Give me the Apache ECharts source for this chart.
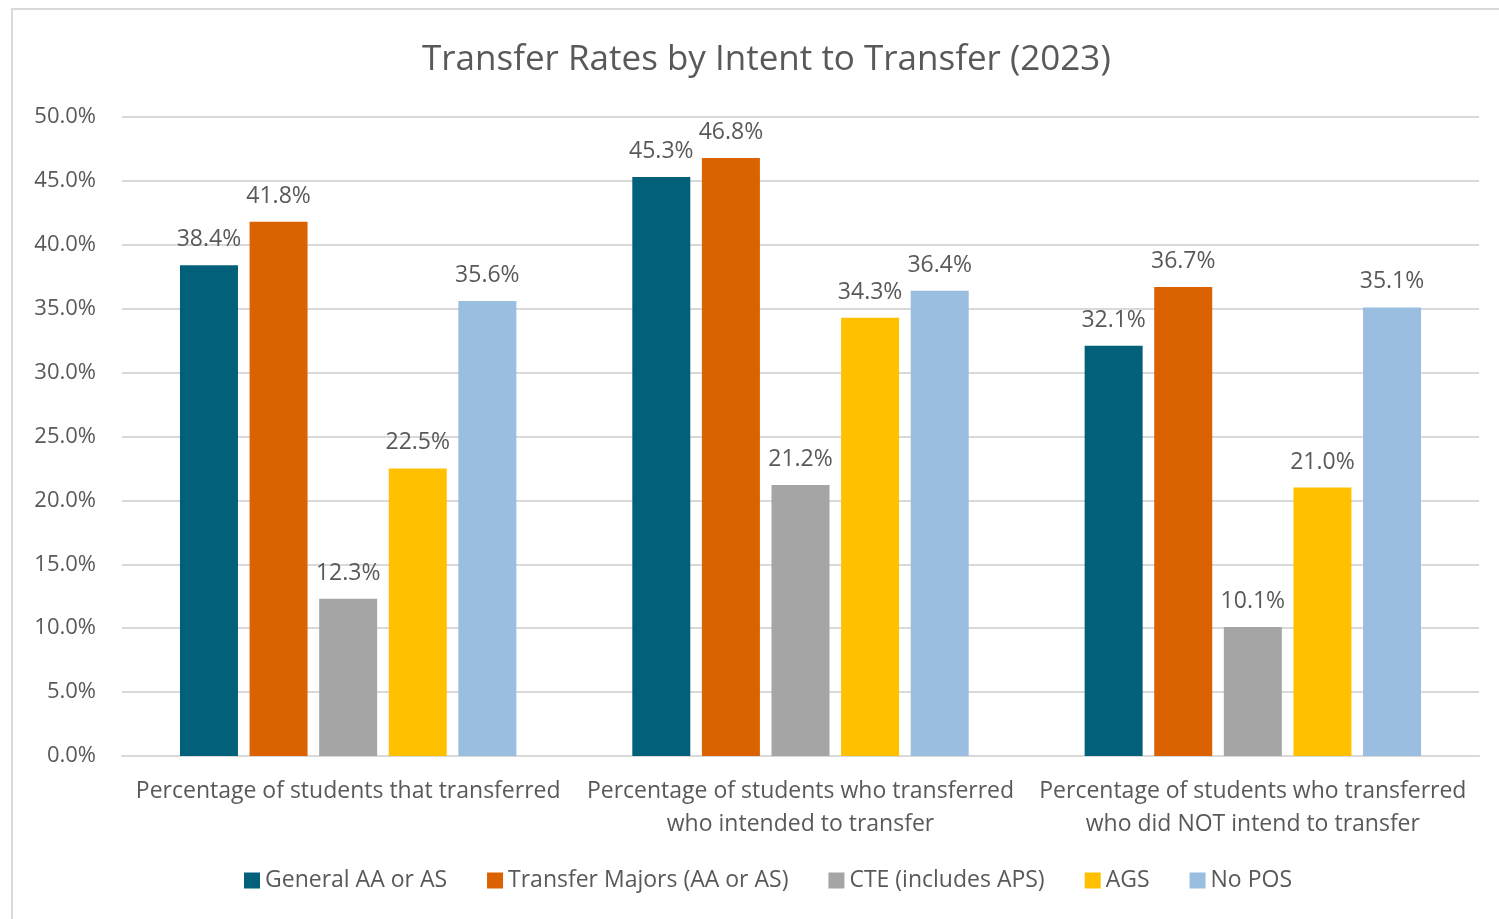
<!DOCTYPE html>
<html>
<head>
<meta charset="utf-8">
<title>Transfer Rates by Intent to Transfer (2023)</title>
<script src="https://cdn.jsdelivr.net/npm/echarts@6/dist/echarts.min.js"></script>
<style>
  html, body { margin: 0; padding: 0; background: #fff; }
  #chart { width: 1499px; height: 919px; }
</style>
</head>
<body>
<div id="chart"></div>
<script>
  var categories = [
    'Percentage of students that transferred',
    'Percentage of students who transferred\nwho intended to transfer',
    'Percentage of students who transferred\nwho did NOT intend to transfer'
  ];
  var seriesNames = ['General AA or AS', 'Transfer Majors (AA or AS)', 'CTE (includes APS)', 'AGS', 'No POS'];
  var generalAA = [38.4, 45.3, 32.1];
  var transferMajors = [41.8, 46.8, 36.7];
  var cte = [12.3, 21.2, 10.1];
  var ags = [22.5, 34.3, 21.0];
  var noPos = [35.6, 36.4, 35.1];
  var colors = ['#03607a', '#da6200', '#a5a5a5', '#ffc000', '#9abee0'];

  var font = '"Open Sans", "DejaVu Sans", sans-serif';
  var textColor = '#595959';

  var chart = echarts.init(document.getElementById('chart'));

  var allValues = [generalAA, transferMajors, cte, ags, noPos];
  var series = seriesNames.map(function (name, i) {
    return {
      name: name,
      type: 'bar',
      data: allValues[i],
      barWidth: 58,
      barGap: '20%',
      itemStyle: { color: colors[i] },
      label: {
        show: true,
        position: 'top',
        distance: 14,
        color: textColor,
        fontFamily: font,
        fontSize: 23,
        formatter: function (p) { return p.value.toFixed(1) + '%'; }
      }
    };
  });

  chart.setOption({
    backgroundColor: '#fff',
    animation: false,
    graphic: [{
      type: 'rect',
      shape: { x: 12, y: 9, width: 1600, height: 1000 },
      style: { fill: 'none', stroke: '#d9d9d9', lineWidth: 2 },
      silent: true
    }],
    // the original chart frame runs past the right edge, so title/legend sit a bit right of centre
    title: {
      text: 'Transfer Rates by Intent to Transfer (2023)',
      left: 417,
      top: 38,
      textStyle: { color: textColor, fontFamily: font, fontSize: 35, fontWeight: 'normal' }
    },
    legend: {
      data: seriesNames,
      bottom: 22,
      left: 239,
      icon: 'rect',
      itemWidth: 16,
      itemHeight: 16,
      itemGap: 40,
      textStyle: { color: textColor, fontFamily: font, fontSize: 23, padding: [0, 0, 0, 0] }
    },
    grid: { left: 122, right: 20, top: 117, bottom: 163, containLabel: false },
    xAxis: {
      type: 'category',
      data: categories,
      axisLine: { lineStyle: { color: '#d9d9d9', width: 2 } },
      axisTick: { show: false },
      axisLabel: {
        color: textColor,
        fontFamily: font,
        fontSize: 23,
        lineHeight: 33,
        margin: 19,
        interval: 0
      }
    },
    yAxis: {
      type: 'value',
      min: 0,
      max: 50,
      interval: 5,
      axisLine: { show: false },
      axisTick: { show: false },
      splitLine: { lineStyle: { color: '#d9d9d9', width: 2 } },
      axisLabel: {
        color: textColor,
        fontFamily: font,
        fontSize: 22,
        margin: 26,
        formatter: function (v) { return v.toFixed(1) + '%'; }
      }
    },
    series: series
  });
</script>
</body>
</html>
